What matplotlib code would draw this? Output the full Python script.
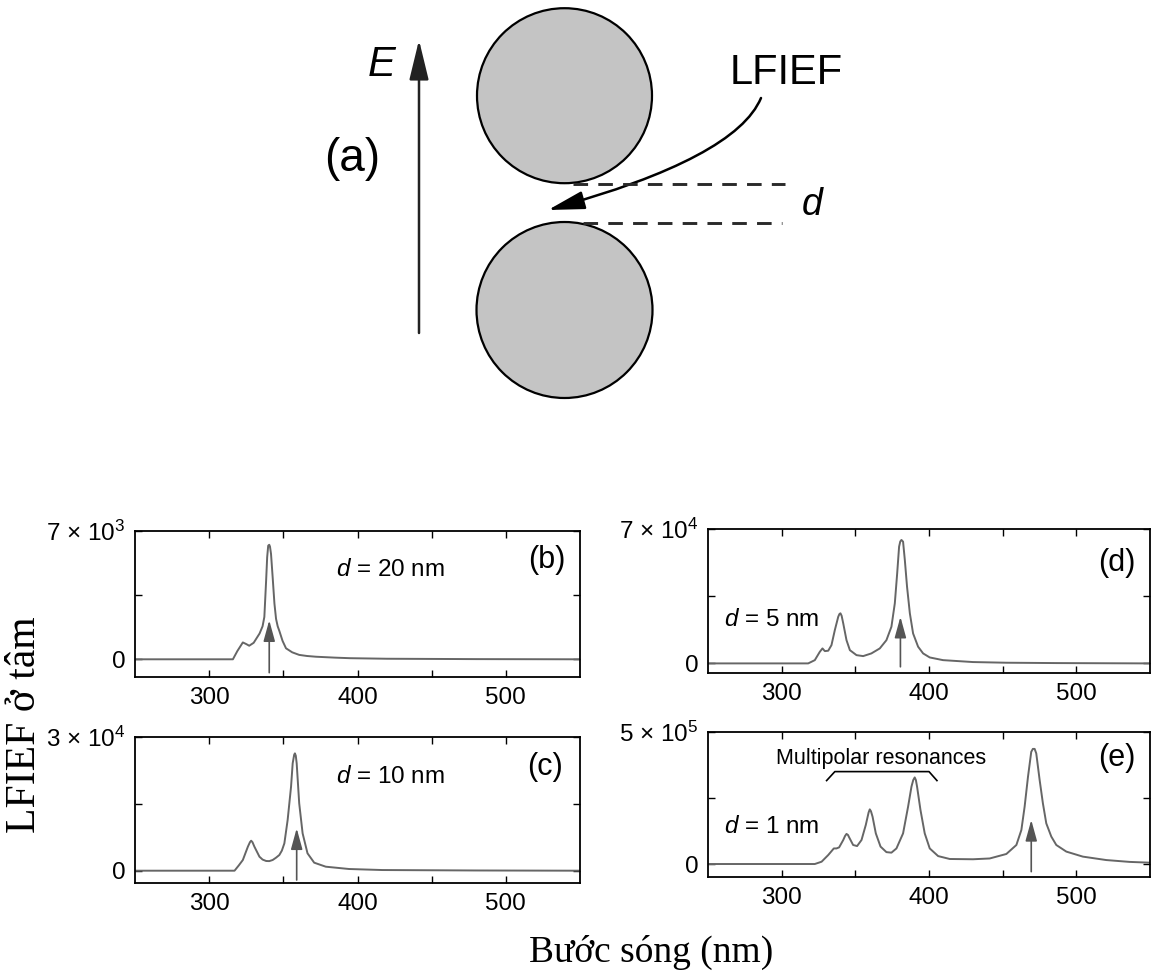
import matplotlib
matplotlib.use("Agg")
from matplotlib import pyplot as plt
from matplotlib.patches import Circle, FancyArrowPatch
from matplotlib.path import Path

plt.rcParams['font.family'] = ['Liberation Sans', 'DejaVu Sans']
plt.rcParams['mathtext.fontset'] = 'custom'
plt.rcParams['mathtext.rm'] = 'Liberation Sans'
plt.rcParams['mathtext.it'] = 'Liberation Sans:italic'

# spectra (wavelength in nm, LFIEF at the centre)
wl_b = [250, 316, 319, 322.7, 325, 327, 330, 334, 336, 337.2, 338.4, 339.1, 339.8, 340.5, 341, 341.7,
        342.8, 344, 345.1, 346.2, 347.3, 349.5, 351.8, 356, 360.7, 366, 372, 385, 395, 420, 480, 550]
val_b = [0, 0, 450, 920, 830, 740, 900, 1410, 1800, 2310, 4300, 5570, 6200, 6250, 6150, 5750,
         4480, 3040, 2200, 1800, 1550, 1000, 600, 380, 240, 180, 140, 90, 60, 30, 10, 0]

wl_c = [250, 317.1, 320, 322.7, 326.1, 327.5, 328.3, 329.2, 330.5, 333.9, 336, 338.4, 340.5, 342.8, 345,
        347.3, 349, 350.7, 352.9, 355.2, 356.3, 357.3, 357.8, 358.4, 359, 360.7, 363, 366.3, 370.8,
        378.6, 394.3, 416.7, 480, 550]
val_c = [0, 0, 1200, 2400, 5390, 6400, 6730, 6400, 5390, 3140, 2500, 2180, 2150, 2400, 2900,
         3520, 4500, 6140, 11370, 18850, 24090, 26000, 26330, 25800, 24090, 15120, 8380, 3900, 1800,
         900, 380, 150, 50, 0]

wl_d = [250, 318, 322.5, 325.9, 327.7, 329.3, 331.6, 333.8, 336.1, 338.4, 339.2, 339.9, 340.7, 341.8, 344,
        346.3, 350.8, 355.3, 360.9, 366.6, 371.1, 374.5, 376.8, 378.4, 379.7, 380.5, 381.3, 382.4,
        383.6, 385.1, 387, 389.2, 392.6, 396, 400.5, 409.5, 429.9, 452.5, 486.4, 550]
val_d = [0, 0, 1700, 6050, 7800, 6400, 6600, 9500, 17400, 24300, 25700, 26100, 24800, 20800, 12100,
         6900, 4300, 3800, 5200, 7800, 12100, 19100, 31300, 46900, 60800, 63500, 64300, 63400,
         53800, 39900, 26100, 15600, 8700, 5200, 3100, 1700, 700, 350, 170, 0]

wl_e = [250, 322.5, 327.1, 331.6, 335.4, 337.2, 339, 341.8, 343, 344, 345, 345.8, 348.5, 351.2, 354.2,
        357.1, 359, 359.8, 360.6, 361.7, 363.9, 367.1, 371.1, 374.5, 377.9, 382.4, 385.8, 388.1, 389.3,
        390.3, 391.1, 391.9, 394.2, 397.1, 400.5, 406.2, 414.1, 429.9, 441.2, 452.5, 459.3, 462.7, 464.9,
        467.2, 469.4, 470.5, 471.7, 472.8, 475.1, 477.3, 479.6, 483, 486.4, 493.2, 504.4, 520.3, 536.1, 550]
val_e = [0, 0, 8700, 34000, 59000, 59000, 63000, 91000, 106000, 114000, 110000, 101000, 72000, 68000, 91000,
         148000, 195000, 207000, 200000, 179000, 116000, 66000, 45000, 43000, 59000, 116000, 217000, 293000, 318000,
         328000, 318000, 293000, 205000, 116000, 59000, 30000, 19000, 18000, 21000, 38000, 72000, 129000, 217000,
         331000, 425000, 436000, 436000, 419000, 318000, 230000, 154000, 104000, 72000, 47000, 28000, 15000, 8000, 5000]

# dipolar resonance arrows: wavelength, start, end
arrow_b = (340.5, -730, 2130)
arrow_c = (359, -2090, 9510)
arrow_d = (380.6, -1770, 24300)
arrow_e = (469.4, -29000, 167000)

gap_labels = ['$d$ = 20 nm', '$d$ = 10 nm', '$d$ = 5 nm', '$d$ = 1 nm']
panel_labels = ['(b)', '(c)', '(d)', '(e)']
ytop = [7000, 30000, 70000, 500000]
ybottom = [-966, -2760, -5000, -49200]
ytop_labels = ['7 × 10$^{3}$', '3 × 10$^{4}$', '7 × 10$^{4}$', '5 × 10$^{5}$']

xticks = [300, 350, 400, 450, 500]
xticklabels = ['300', '', '400', '', '500']

fig = plt.figure(figsize=(11.52, 9.74), dpi=100)

# ---- (a) schematic, drawn in pixel units ----
ax0 = fig.add_axes([0, 0.5, 1, 0.5])
ax0.set_xlim(0, 1152)
ax0.set_ylim(487, 0)
ax0.axis('off')
for cy, r in [(95.7, 87.5), (310, 88)]:
    ax0.add_patch(Circle((564.5, cy), r, facecolor='#c4c4c4', edgecolor='black', lw=1.6))
ax0.annotate('', xy=(419, 40), xytext=(419, 333),
             arrowprops=dict(arrowstyle='-|>,head_length=0.7,head_width=0.17', lw=1.8,
                             color='#222222', mutation_scale=35, shrinkA=0, shrinkB=0))
ax0.text(382, 65, 'E', style='italic', fontsize=30, ha='center', va='center')
ax0.text(352, 159, '(a)', fontsize=33, ha='center', va='center')
ax0.text(786, 73, 'LFIEF', fontsize=30, ha='center', va='center')
ax0.text(812, 205, 'd', style='italic', fontsize=27, ha='center', va='center')
ax0.plot([573, 785], [184, 184], ls=(0, (5, 3.5)), color='#2a2a2a', lw=2.1)
ax0.plot([583, 782], [222.5, 222.5], ls=(0, (5, 3.5)), color='#2a2a2a', lw=2.1)
curve = Path([(761, 98), (736, 158), (548, 210)], [Path.MOVETO, Path.CURVE3, Path.CURVE3])
ax0.add_patch(FancyArrowPatch(path=curve, arrowstyle='-|>,head_length=0.8,head_width=0.2',
                              mutation_scale=28, lw=1.8, color='black'))

# ---- spectra ----
rects = [[135/1152, 1-677/974, 445/1152, 146/974],
         [135/1152, 1-883/974, 445/1152, 146/974],
         [708/1152, 1-673/974, 442/1152, 144/974],
         [708/1152, 1-877/974, 442/1152, 145/974]]
wls = [wl_b, wl_c, wl_d, wl_e]
vals = [val_b, val_c, val_d, val_e]
arrows = [arrow_b, arrow_c, arrow_d, arrow_e]
label_pos = [(0.452, 0.733), (0.452, 0.726), (0.036, 0.368), (0.036, 0.345)]
panel_pos = [(0.926, 0.80), (0.922, 0.795), (0.925, 0.764), (0.925, 0.82)]

axes = []
for i in range(4):
    ax = fig.add_axes(rects[i])
    ax.plot(wls[i], vals[i], color='#666666', lw=1.4)
    lam, y0, y1 = arrows[i]
    ax.annotate('', xy=(lam, y1), xytext=(lam, y0),
                arrowprops=dict(arrowstyle='-|>,head_length=0.8,head_width=0.22', lw=1.2,
                                color='#555555', mutation_scale=16, shrinkA=0, shrinkB=0))
    ax.set_xlim(250, 550)
    ax.set_ylim(ybottom[i], ytop[i])
    ax.set_xticks(xticks)
    ax.set_xticklabels(xticklabels)
    ax.set_yticks([0, ytop[i] / 2, ytop[i]])
    ax.set_yticklabels(['0', '', ytop_labels[i]])
    ax.tick_params(direction='in', top=True, right=True, length=5, width=1,
                   labelsize=17.5, pad=7)
    for s in ax.spines.values():
        s.set_linewidth(1.3)
    ax.text(label_pos[i][0], label_pos[i][1], gap_labels[i], transform=ax.transAxes,
            fontsize=17.5, ha='left', va='center')
    ax.text(panel_pos[i][0], panel_pos[i][1], panel_labels[i], transform=ax.transAxes,
            fontsize=22, ha='center', va='center')
    axes.append(ax)

# multipolar bracket in (e)
axe = axes[3]
axe.plot([330.5, 336.1, 400, 405.4], [316000, 350000, 350000, 316000], color='black', lw=1.2)
axe.text(367.8, 400000, 'Multipolar resonances', fontsize=15.5, ha='center', va='center')

fig.text(25/1152, 1-725/974, 'LFIEF ở tâm', rotation=90, family='Liberation Serif',
         fontsize=30, ha='center', va='center')
fig.text(651/1152, 1-952/974, 'Bước sóng (nm)', family='Liberation Serif',
         fontsize=27, ha='center', va='center')

fig.savefig('out.png', dpi=100)
